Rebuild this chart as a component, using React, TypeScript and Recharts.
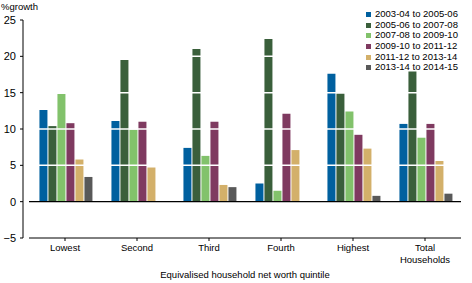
import React from 'react';
import { BarChart, Bar, XAxis, YAxis, ReferenceLine, Legend } from 'recharts';

const categories = ['Lowest', 'Second', 'Third', 'Fourth', 'Highest', 'Total\nHouseholds'];
const seriesNames = [
  '2003-04 to 2005-06',
  '2005-06 to 2007-08',
  '2007-08 to 2009-10',
  '2009-10 to 2011-12',
  '2011-12 to 2013-14',
  '2013-14 to 2014-15',
];
const s0304 = [12.6, 11.1, 7.4, 2.5, 17.6, 10.7];
const s0506 = [10.4, 19.5, 21.0, 22.4, 14.9, 17.9];
const s0708 = [14.8, 9.9, 6.3, 1.5, 12.4, 8.8];
const s0910 = [10.8, 11.0, 11.0, 12.1, 9.2, 10.7];
const s1112 = [5.8, 4.7, 2.3, 7.1, 7.3, 5.6];
const s1314 = [3.4, 0, 2.0, 0, 0.8, 1.1];
const yTicks = [-5, 0, 5, 10, 15, 20, 25];

const COLORS = ['#00609f', '#3a5f3b', '#82c26b', '#7f3a60', '#d3b06a', '#595959'];
const FONT = '"Liberation Sans", Arial, sans-serif';

const allSeries = [s0304, s0506, s0708, s0910, s1112, s1314];

const data = categories.map((name, i) => {
  const row: Record<string, string | number> = { name };
  allSeries.forEach((s, k) => {
    row[seriesNames[k]] = s[i];
  });
  return row;
});

const CategoryTick = ({ x, y, payload }: any) => {
  const lines = String(payload.value).split('\n');
  return (
    <text x={x} y={y} textAnchor="middle" fontSize={9.5} fontFamily={FONT} fill="#000">
      {lines.map((line, i) => (
        <tspan key={i} x={x} dy={i === 0 ? '0.85em' : '1.25em'}>
          {line}
        </tspan>
      ))}
    </text>
  );
};

const LegendBox = () => (
  <div style={{ fontFamily: FONT, fontSize: 9.5, lineHeight: '10.7px', color: '#000' }}>
    {seriesNames.map((name, i) => (
      <div key={name} style={{ display: 'flex', alignItems: 'center', height: 10.7 }}>
        <span style={{ width: 5, height: 5, background: COLORS[i], marginRight: 4, display: 'inline-block' }} />
        <span>{name}</span>
      </div>
    ))}
  </div>
);

const App: React.FC = () => {
  return (
    <div style={{ position: 'absolute', left: 0, top: 0, width: 472, height: 283, background: '#fff' }}>
      <BarChart
        width={472}
        height={283}
        data={data}
        margin={{ top: 20, right: 11, left: 0, bottom: 0 }}
        barCategoryGap="14.5%"
        barGap={1}
      >
        <XAxis
          dataKey="name"
          height={45}
          axisLine={{ stroke: '#000' }}
          tickLine={{ stroke: '#000' }}
          tickSize={3}
          tickMargin={2}
          tick={<CategoryTick />}
          interval={0}
          label={{
            content: () => (
              <text x={245} y={278} textAnchor="middle" fontSize={9.5} fontFamily={FONT} fill="#000">
                Equivalised household net worth quintile
              </text>
            ),
          }}
        />
        <YAxis
          width={29}
          domain={[-5, 25]}
          ticks={yTicks}
          interval={0}
          axisLine={{ stroke: '#000', transform: 'translate(-6,0)' }}
          tickLine={{ stroke: '#000', transform: 'translate(-6,0)' }}
          tickSize={3}
          tickMargin={10}
          tick={{ fontSize: 11, fontFamily: FONT, fill: '#000' }}
          tickFormatter={(v: number) => (v < 0 ? `\u2212${Math.abs(v)}` : `${v}`)}
          label={{
            content: () => (
              <text x={1} y={10} fontSize={9.5} fontFamily={FONT} fill="#000">
                %growth
              </text>
            ),
          }}
        />
        {seriesNames.map((name, i) => (
          <Bar key={name} dataKey={name} fill={COLORS[i]} isAnimationActive={false} />
        ))}
        {[5, 10, 15, 20].map((v) => (
          <ReferenceLine key={v} y={v} stroke="#fff" strokeWidth={1.5} />
        ))}
        <ReferenceLine y={0} stroke="#000" strokeWidth={1.2} />
        <Legend
          layout="horizontal"
          verticalAlign="middle"
          content={<LegendBox />}
          wrapperStyle={{ top: 9, left: 366, width: 110, height: 66 }}
        />
      </BarChart>
    </div>
  );
};

export default App;
